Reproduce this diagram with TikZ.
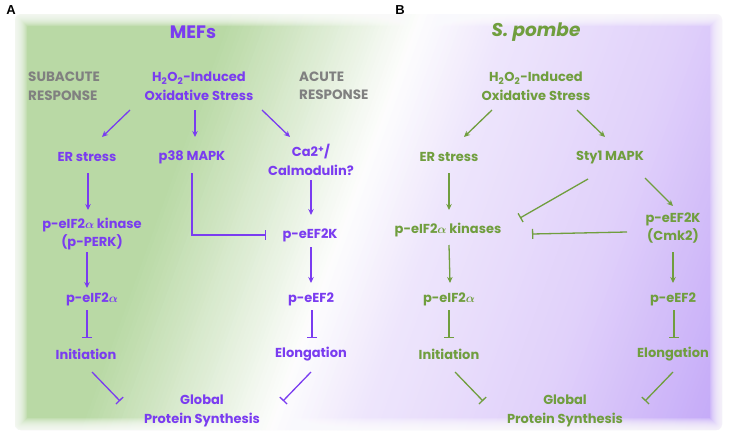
\documentclass[tikz,border=0pt]{standalone}
\usepackage{fontspec}
\setmainfont{Poppins}
\newfontfamily\lblfont{Liberation Sans}
\usetikzlibrary{arrows.meta,calc}
\definecolor{ptx}{RGB}{122,60,240}
\definecolor{gtx}{RGB}{112,158,62}
\definecolor{grx}{RGB}{128,128,128}
\definecolor{cG}{RGB}{185,217,165}
\definecolor{cW}{RGB}{253,253,253}
\definecolor{cLa}{RGB}{238,230,252}
\definecolor{cLb}{RGB}{224,208,250}
\definecolor{cP}{RGB}{195,168,248}
\newcommand\bgcol[1]{%
 \pgfmathsetmacro\bgU{#1}%
 \ifdim\bgU pt<230pt \colorlet{bgc}{cG}%
 \else\ifdim\bgU pt<420pt \pgfmathtruncatemacro\bgT{(\bgU-230)/190*100}\colorlet{bgc}{cW!\bgT!cG}%
 \else\ifdim\bgU pt<510pt \pgfmathtruncatemacro\bgT{(\bgU-420)/90*100}\colorlet{bgc}{cLa!\bgT!cW}%
 \else\ifdim\bgU pt<690pt \pgfmathtruncatemacro\bgT{(\bgU-510)/180*100}\colorlet{bgc}{cLb!\bgT!cLa}%
 \else \pgfmathtruncatemacro\bgT{min(100,(\bgU-690)/180*100)}\colorlet{bgc}{cP!\bgT!cLb}%
 \fi\fi\fi\fi}
\newcommand\alf{\mbox{\boldmath$\alpha$}}
\tikzset{
 txt/.style={align=center, inner sep=0pt, font=\bfseries\fontsize{13}{18.5}\selectfont},
 ta/.style={txt, text=ptx},
 tb/.style={txt, text=gtx},
 gr/.style={align=left, anchor=west, inner sep=0pt, text=grx, font=\bfseries\fontsize{13.5}{18.5}\selectfont},
 act/.style={-{Stealth[length=6pt,width=5.5pt]}, line width=1.3pt},
 inh/.style={-{Bar[width=10pt,line width=1.3pt]}, line width=1.3pt},
}
\begin{document}
\begin{tikzpicture}[x=1pt,y=-1pt]
\useasboundingbox (0,0) rectangle (736,447);
% background
\begin{scope}
\clip[rounded corners=6pt] (15,14) rectangle (722,430);
\foreach \u in {0,4,...,1000} {
  \bgcol{\u+2}
  \fill[bgc] (\u+5.4-0.6,0) -- (\u+5.4+4.6,0) -- (\u-156.1+4.6,447) -- (\u-156.1-0.6,447) -- cycle;
}
\end{scope}
\foreach \k in {1,...,12} {
  \draw[white, opacity=0.15, line width=2*\k pt, rounded corners=6pt] (15,14) rectangle (722,430);
}
% panel labels
\node[font=\lblfont\bfseries\fontsize{13}{13}\selectfont, inner sep=0pt] (labA) at (11,10) {A};
\node[font=\lblfont\bfseries\fontsize{13}{13}\selectfont, inner sep=0pt] (labB) at (400,10) {B};
% Panel A
\node[ta, font=\bfseries\fontsize{18}{20}\selectfont] (titA) at (193,32) {MEFs};
\node[gr] (subA) at (28,86) {SUBACUTE\\RESPONSE};
\node[gr] (acuA) at (299,86) {ACUTE\\RESPONSE};
\node[ta] (h2A) at (199,86) {H\textsubscript{2}O\textsubscript{2}-Induced\\Oxidative Stress};
\node[ta] (erA) at (87,157) {ER stress};
\node[ta] (p38A) at (192,157) {p38 MAPK};
\node[ta] (caA) at (311,160) {Ca2\textsuperscript{+}/\\Calmodulin?};
\node[ta] (kinA) at (92,234) {p-eIF2\alf{} kinase\\(p-PERK)};
\node[ta] (ekA) at (310,235) {p-eEF2K};
\node[ta] (peA) at (92,299) {p-eIF2\alf};
\node[ta] (p2A) at (311,299) {p-eEF2};
\node[ta] (inA) at (86,354) {Initiation};
\node[ta] (elA) at (311,354) {Elongation};
\node[ta] (glA) at (202,411) {Global\\Protein Synthesis};
\begin{scope}[draw=ptx]
\draw[act] ([shift={(-69,24)}]h2A.center) -- ([shift={(15,-20)}]erA.center);
\draw[act] ([shift={(-4,24)}]h2A.center) -- ([shift={(3,-20)}]p38A.center);
\draw[act] ([shift={(63,24)}]h2A.center) -- ([shift={(-21,-23)}]caA.center);
\draw[act] ([shift={(1,16)}]erA.center) -- ([shift={(-4,-24)}]kinA.center);
\draw[act] ([shift={(0,20)}]caA.center) -- ([shift={(1,-20)}]ekA.center);
\draw[inh] ([shift={(0,16)}]p38A.center) |- ([shift={(-44,0)}]ekA.center);
\draw[act] ([shift={(1,12)}]ekA.center) -- ([shift={(0,-16)}]p2A.center);
\draw[act] ([shift={(-5,18)}]kinA.center) -- ([shift={(-5,-11)}]peA.center);
\draw[inh] ([shift={(-5,11)}]peA.center) -- ([shift={(1,-16)}]inA.center);
\draw[inh] ([shift={(1,11)}]p2A.center) -- ([shift={(1,-16)}]elA.center);
\draw[inh] ([shift={(6,18)}]inA.center) -- ([shift={(-82,-10)}]glA.center);
\draw[inh] ([shift={(0,18)}]elA.center) -- ([shift={(81,-10)}]glA.center);
\end{scope}
% Panel B
\node[tb, font=\bfseries\itshape\fontsize{18.5}{20}\selectfont] (titB) at (536,32) {S. pombe};
\node[tb] (h2B) at (536,86) {H\textsubscript{2}O\textsubscript{2}-Induced\\Oxidative Stress};
\node[tb] (erB) at (449,157) {ER stress};
\node[tb] (styB) at (610,157) {Sty1 MAPK};
\node[tb] (kinB) at (448,230) {p-eIF2\alf{} kinases};
\node[tb] (ekB) at (673,228) {p-eEF2K\\(Cmk2)};
\node[tb] (peB) at (449,299) {p-eIF2\alf};
\node[tb] (p2B) at (673,299) {p-eEF2};
\node[tb] (inB) at (449,354) {Initiation};
\node[tb] (elB) at (673,354) {Elongation};
\node[tb] (glB) at (565,411) {Global\\Protein Synthesis};
\begin{scope}[draw=gtx]
\draw[act] ([shift={(-44,24)}]h2B.center) -- ([shift={(15,-20)}]erB.center);
\draw[act] ([shift={(41,24)}]h2B.center) -- ([shift={(-5,-20)}]styB.center);
\draw[act] ([shift={(0,16)}]erB.center) -- ([shift={(1,-20)}]kinB.center);
\draw[inh] ([shift={(-22,22)}]styB.center) -- ([shift={(72,-12)}]kinB.center);
\draw[act] ([shift={(35,21)}]styB.center) -- ([shift={(0,-22)}]ekB.center);
\draw[inh] ([shift={(-46,4)}]ekB.center) -- ([shift={(84,4)}]kinB.center);
\draw[act] ([shift={(1,15)}]kinB.center) -- ([shift={(1,-16)}]peB.center);
\draw[inh] ([shift={(0,11)}]peB.center) -- ([shift={(0,-16)}]inB.center);
\draw[act] ([shift={(0,24)}]ekB.center) -- ([shift={(0,-16)}]p2B.center);
\draw[inh] ([shift={(1,11)}]p2B.center) -- ([shift={(1,-16)}]elB.center);
\draw[inh] ([shift={(6,18)}]inB.center) -- ([shift={(-82,-10)}]glB.center);
\draw[inh] ([shift={(0,18)}]elB.center) -- ([shift={(80,-10)}]glB.center);
\end{scope}
\end{tikzpicture}
\end{document}
